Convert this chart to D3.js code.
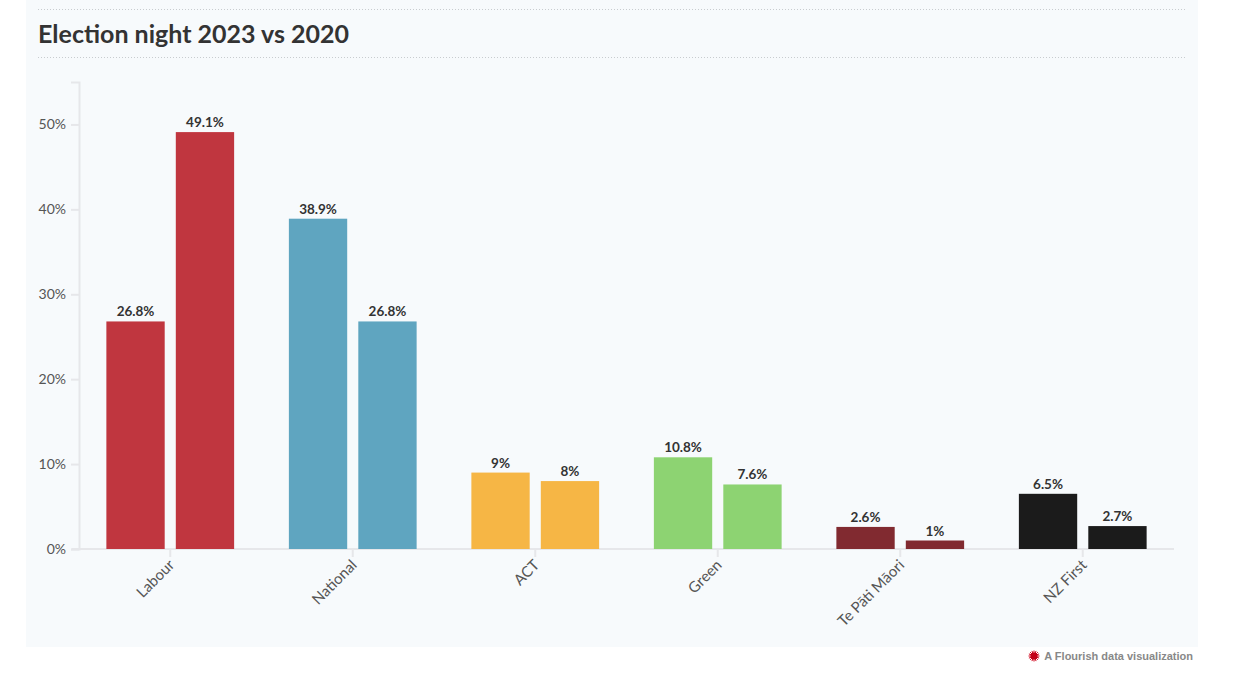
<!DOCTYPE html>
<html>
<head>
<meta charset="utf-8">
<script src="https://cdn.jsdelivr.net/npm/d3@7"></script>
<style>
  body { margin: 0; background: #fff; }
  svg { display: block; font-family: Lato, "Open Sans", sans-serif; }
</style>
</head>
<body>
<div id="chart"></div>
<script>
// Data
const parties = ["Labour", "National", "ACT", "Green", "Te Pāti Māori", "NZ First"];
const years = ["2023", "2020"];
const votes2023 = [26.8, 38.9, 9, 10.8, 2.6, 6.5];
const votes2020 = [49.1, 26.8, 8, 7.6, 1, 2.7];
const partyColors = ["#c0363f", "#5fa5c0", "#f6b645", "#8dd372", "#812a30", "#1b1b1b"];
const yTicks = [0, 10, 20, 30, 40, 50];

const width = 1239;
const height = 678;

const svg = d3.select("#chart")
    .append("svg")
    .attr("width", width)
    .attr("height", height);

// Panel background
svg.append("rect")
    .attr("x", 26).attr("y", 0)
    .attr("width", 1172).attr("height", 647)
    .attr("fill", "#f7fafc");

// Dotted rules around the title
[9.5, 57.5].forEach(y => {
    svg.append("line")
        .attr("x1", 38).attr("x2", 1186)
        .attr("y1", y).attr("y2", y)
        .attr("stroke", "#c8cccf")
        .attr("stroke-width", 1)
        .attr("stroke-dasharray", "1,2");
});

svg.append("text")
    .attr("x", 38).attr("y", 43)
    .attr("font-size", 25)
    .attr("font-weight", "bold")
    .attr("fill", "#333")
    .text("Election night 2023 vs 2020");

// Scales
const plot = { left: 79, right: 1174, top: 82, bottom: 549 };

const x0 = d3.scaleBand()
    .domain(parties)
    .range([plot.left, plot.right])
    .paddingInner(0.3)
    .paddingOuter(0.15);

const x1 = d3.scaleBand()
    .domain(years)
    .range([0, x0.bandwidth()])
    .paddingInner(0.16);

const y = d3.scaleLinear()
    .domain([0, 55])
    .range([plot.bottom, plot.top]);

const axisColor = "#e6e7ea";

// Y axis
const yAxis = svg.append("g")
    .attr("transform", `translate(${plot.left},0)`)
    .call(d3.axisLeft(y).tickValues(yTicks).tickFormat(d => d + "%").tickSize(8).tickPadding(5));
yAxis.select(".domain")
    .attr("stroke", axisColor).attr("stroke-width", 2);
yAxis.selectAll(".tick line").attr("stroke", axisColor).attr("stroke-width", 2);
yAxis.selectAll(".tick text")
    .attr("font-family", "Lato, sans-serif")
    .attr("font-size", 14)
    .attr("fill", "#555");

// X axis
const xAxis = svg.append("g")
    .attr("transform", `translate(0,${plot.bottom})`)
    .call(d3.axisBottom(x0).tickSize(8).tickSizeOuter(0));
xAxis.select(".domain")
    .attr("d", `M${plot.left - 7},0H${plot.right}`)
    .attr("stroke", axisColor).attr("stroke-width", 2);
xAxis.selectAll(".tick line").attr("stroke", axisColor).attr("stroke-width", 2);
xAxis.selectAll(".tick text")
    .attr("font-family", "Lato, sans-serif")
    .attr("font-size", 15)
    .attr("fill", "#555")
    .attr("text-anchor", "end")
    .attr("y", 0)
    .attr("dy", null)
    .attr("transform", "translate(5,17) rotate(-45)");

// Bars
const rows = parties.map((p, i) => ({
    party: p,
    color: partyColors[i],
    values: [
        { year: "2023", value: votes2023[i] },
        { year: "2020", value: votes2020[i] }
    ]
}));

const group = svg.append("g")
    .selectAll("g")
    .data(rows)
    .enter()
    .append("g")
    .attr("transform", d => `translate(${x0(d.party)},0)`);

group.selectAll("rect")
    .data(d => d.values.map(v => ({ ...v, color: d.color })))
    .enter()
    .append("rect")
    .attr("x", d => x1(d.year))
    .attr("y", d => y(d.value))
    .attr("width", x1.bandwidth())
    .attr("height", d => y(0) - y(d.value))
    .attr("fill", d => d.color);

group.selectAll("text")
    .data(d => d.values)
    .enter()
    .append("text")
    .attr("x", d => x1(d.year) + x1.bandwidth() / 2)
    .attr("y", d => y(d.value) - 5)
    .attr("text-anchor", "middle")
    .attr("font-size", 13.5)
    .attr("font-weight", "bold")
    .attr("fill", "#333")
    .text(d => d.value + "%");

// Flourish credit
const credit = svg.append("g").attr("transform", "translate(1034,656)");
for (let a = 0; a < 16; a++) {
    const ang = a * Math.PI / 8;
    credit.append("line")
        .attr("x1", 0).attr("y1", 0)
        .attr("x2", Math.cos(ang) * 5.5).attr("y2", Math.sin(ang) * 5.5)
        .attr("stroke", "#d0021b").attr("stroke-width", 1);
}
credit.append("circle").attr("r", 3.5).attr("fill", "#c20018");
svg.append("text")
    .attr("x", 1193).attr("y", 660)
    .attr("text-anchor", "end")
    .attr("font-family", "Liberation Sans, Arial, sans-serif")
    .attr("font-size", 11)
    .attr("font-weight", "bold")
    .attr("fill", "#888")
    .text("A Flourish data visualization");
</script>
</body>
</html>
